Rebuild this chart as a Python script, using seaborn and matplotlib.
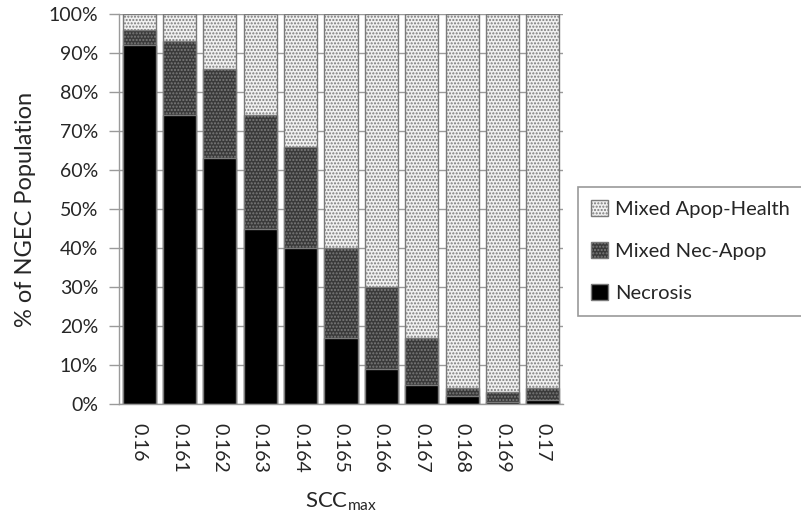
import numpy as np
import pandas as pd
import seaborn as sns
import matplotlib.pyplot as plt
from matplotlib.patches import Patch

# SCCmax threshold categories and population fractions (%)
scc = ["0.16", "0.161", "0.162", "0.163", "0.164", "0.165",
       "0.166", "0.167", "0.168", "0.169", "0.17"]
necrosis = [92, 74, 63, 45, 40, 17, 9, 5, 2, 0.5, 1]
nec_apop = [4, 19, 23, 29, 26, 23, 21, 12, 2, 2.5, 3]
apop_health = [4, 7, 14, 26, 34, 60, 70, 83, 96, 97, 96]
yticks = [0, 10, 20, 30, 40, 50, 60, 70, 80, 90, 100]

sns.set_theme(style="white")
plt.rcParams["font.family"] = ["Lato", "DejaVu Sans"]
plt.rcParams["hatch.linewidth"] = 1.0

df = pd.DataFrame({"scc": scc, "necrosis": necrosis,
                   "nec_apop": nec_apop, "apop_health": apop_health})
df["lvl_mid"] = df["necrosis"] + df["nec_apop"]
df["lvl_top"] = df["lvl_mid"] + df["apop_health"]

fig = plt.figure(figsize=(8.01, 5.20), dpi=100)
ax = fig.add_axes([119 / 801, 116 / 520, 444 / 801, 390 / 520])

edge = "#7a7a7a"
grey = "#9a9a9a"
layers = [
    ("lvl_top", "#f0f0f0", "....."),
    ("lvl_mid", "#3a3a3a", "....."),
    ("necrosis", "#000000", None),
]
for col, face, hatch in layers:
    sns.barplot(data=df, x="scc", y=col, order=scc, color=face,
                width=0.82, saturation=1, ax=ax)
    for bar in ax.containers[-1]:
        bar.set_facecolor(face)
        bar.set_edgecolor(edge)
        bar.set_linewidth(1.0)
        if hatch:
            bar.set_hatch(hatch)

ax.set_xlim(-0.5, len(scc) - 0.5)
ax.set_ylim(0, 100)
ax.set_yticks(yticks)
ax.set_yticklabels([f"{v}%" for v in yticks], fontsize=14)
ax.yaxis.grid(True, color=grey, linewidth=1)
ax.set_axisbelow(True)

ax.set_xticks(range(len(scc)))
ax.set_xticklabels(scc, rotation=-90, fontsize=14)
ax.set_xticks(np.arange(-0.5, len(scc)), minor=True)
ax.tick_params(axis="x", which="major", length=0, pad=14)
ax.tick_params(axis="x", which="minor", length=6.5, width=1, color=grey)
ax.tick_params(axis="y", length=7, width=1, color=grey, left=True, pad=8)

for s in ["top", "right"]:
    ax.spines[s].set_visible(False)
for s in ["left", "bottom"]:
    ax.spines[s].set_color(grey)
    ax.spines[s].set_linewidth(1)

ax.set_ylabel("% of NGEC Population", fontsize=17)
ax.yaxis.set_label_coords((26 - 119) / 444, 0.5)
ax.yaxis.label.set_va("center")
ax.set_xlabel("SCC$_{\\mathregular{max}}$", fontsize=16)
ax.xaxis.set_label_coords((341 - 119) / 444, (404 - 502) / 390)
ax.xaxis.label.set_va("center")

handles = [
    Patch(facecolor="#f0f0f0", edgecolor=edge, hatch=".....", label="Mixed Apop-Health"),
    Patch(facecolor="#3a3a3a", edgecolor=edge, hatch=".....", label="Mixed Nec-Apop"),
    Patch(facecolor="#000000", edgecolor=edge, label="Necrosis"),
]
leg = fig.legend(handles=handles, loc="upper left",
                 bbox_to_anchor=(578 / 801, 1 - 187 / 520), fontsize=14.5,
                 frameon=True, fancybox=False, handlelength=0.85,
                 handleheight=0.85, handletextpad=0.35, labelspacing=1.2,
                 borderpad=0.65, borderaxespad=0)
leg.get_frame().set_edgecolor("#808080")
leg.get_frame().set_linewidth(1.2)

fig.savefig("out.png", dpi=100)
